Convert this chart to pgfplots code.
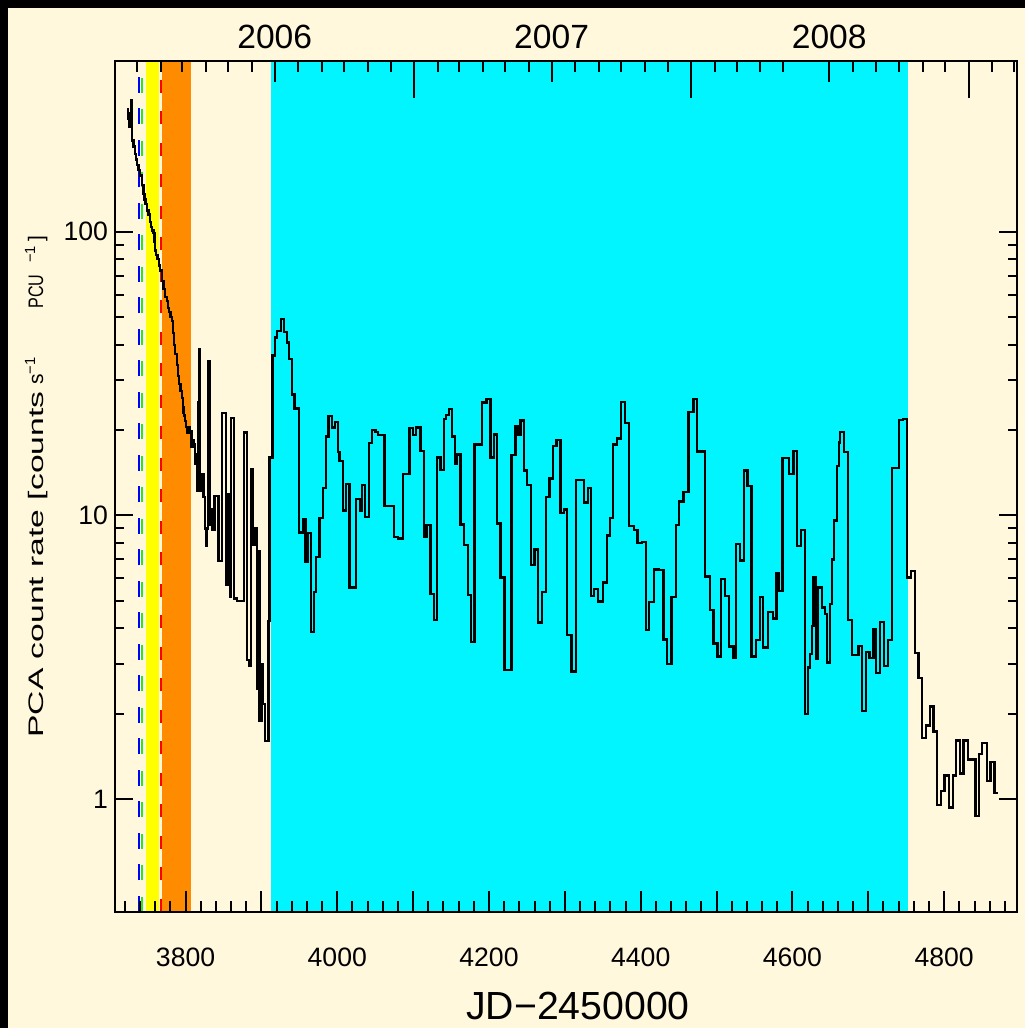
\documentclass[border=0pt]{standalone}
\usepackage{pgfplots}
\pgfplotsset{compat=1.18}
\usepackage{graphicx}
\usepackage{fontspec}
\setmainfont{Liberation Sans}

\definecolor{cream}{RGB}{255,248,220}
\definecolor{bandcyan}{RGB}{0,245,255}
\definecolor{bandorange}{RGB}{255,140,0}
\definecolor{bandyellow}{RGB}{255,255,0}
\definecolor{dashgreen}{RGB}{40,230,40}

\begin{document}
\begin{tikzpicture}[x=1pt,y=1pt]
\path[use as bounding box] (0,0) rectangle (512.5,514);
\fill[black] (0,0) rectangle (512.5,514);
\fill[cream] (4,0) rectangle (512.5,510);

% main light curve axis
\begin{axis}[
  at={(57.5pt,58pt)}, anchor=south west,
  scale only axis, width=451pt, height=425.5pt,
  xmin=3707, xmax=4896, ymode=log, ymin=0.4, ymax=400,
  axis line style={line width=1pt},
  tick style={line width=1pt, black},
  tick align=inside,
  major tick length=9pt, minor tick length=4.5pt,
  /pgf/number format/assume math mode=true,
  axis on top,
  xtick={3800,4000,...,4800},
  xticklabels={3800,4000,4200,4400,4600,4800},
  xtick pos=left,
  ytick={1,10,100},
  yticklabels={1,10,100},
  ytick pos=both,
  xticklabel style={font=\fontsize{13.3}{15}\selectfont, yshift=-14.5pt},
  yticklabel style={font=\fontsize{13.3}{15}\selectfont},
]
% observing windows
\addplot[draw=none, fill=bandyellow, forget plot] coordinates {(3748,0.4) (3748,400) (3765,400) (3765,0.4)} -- cycle;
\addplot[draw=none, fill=bandorange, forget plot] coordinates {(3768.6,0.4) (3768.6,400) (3806.9,400) (3806.9,0.4)} -- cycle;
\addplot[draw=none, fill=bandcyan, forget plot] coordinates {(3912.5,0.4) (3912.5,400) (4752,400) (4752,0.4)} -- cycle;
% event markers
\addplot[blue, line width=1pt, dash pattern=on 8pt off 7.75pt, forget plot] coordinates {(3738,0.4) (3738,400)};
\addplot[dashgreen, line width=1pt, dash pattern=on 7.5pt off 8.25pt, forget plot] coordinates {(3743,0.4) (3743,400)};
\addplot[red, line width=1pt, dash pattern=on 6.5pt off 9.25pt, forget plot] coordinates {(3767.3,0.4) (3767.3,400)};

% JD axis tick marks: every 100 d long, every 20 d short
\addplot[black, line width=1pt, forget plot, unbounded coords=jump] coordinates {
(3720,0.4) (3720,0.4363) (3720,nan)
(3740,0.4) (3740,0.4363) (3740,nan)
(3760,0.4) (3760,0.4363) (3760,nan)
(3780,0.4) (3780,0.4363) (3780,nan)
(3800,0.4) (3800,0.4732) (3800,nan)
(3820,0.4) (3820,0.4363) (3820,nan)
(3840,0.4) (3840,0.4363) (3840,nan)
(3860,0.4) (3860,0.4363) (3860,nan)
(3880,0.4) (3880,0.4363) (3880,nan)
(3900,0.4) (3900,0.4732) (3900,nan)
(3920,0.4) (3920,0.4363) (3920,nan)
(3940,0.4) (3940,0.4363) (3940,nan)
(3960,0.4) (3960,0.4363) (3960,nan)
(3980,0.4) (3980,0.4363) (3980,nan)
(4000,0.4) (4000,0.4732) (4000,nan)
(4020,0.4) (4020,0.4363) (4020,nan)
(4040,0.4) (4040,0.4363) (4040,nan)
(4060,0.4) (4060,0.4363) (4060,nan)
(4080,0.4) (4080,0.4363) (4080,nan)
(4100,0.4) (4100,0.4732) (4100,nan)
(4120,0.4) (4120,0.4363) (4120,nan)
(4140,0.4) (4140,0.4363) (4140,nan)
(4160,0.4) (4160,0.4363) (4160,nan)
(4180,0.4) (4180,0.4363) (4180,nan)
(4200,0.4) (4200,0.4732) (4200,nan)
(4220,0.4) (4220,0.4363) (4220,nan)
(4240,0.4) (4240,0.4363) (4240,nan)
(4260,0.4) (4260,0.4363) (4260,nan)
(4280,0.4) (4280,0.4363) (4280,nan)
(4300,0.4) (4300,0.4732) (4300,nan)
(4320,0.4) (4320,0.4363) (4320,nan)
(4340,0.4) (4340,0.4363) (4340,nan)
(4360,0.4) (4360,0.4363) (4360,nan)
(4380,0.4) (4380,0.4363) (4380,nan)
(4400,0.4) (4400,0.4732) (4400,nan)
(4420,0.4) (4420,0.4363) (4420,nan)
(4440,0.4) (4440,0.4363) (4440,nan)
(4460,0.4) (4460,0.4363) (4460,nan)
(4480,0.4) (4480,0.4363) (4480,nan)
(4500,0.4) (4500,0.4732) (4500,nan)
(4520,0.4) (4520,0.4363) (4520,nan)
(4540,0.4) (4540,0.4363) (4540,nan)
(4560,0.4) (4560,0.4363) (4560,nan)
(4580,0.4) (4580,0.4363) (4580,nan)
(4600,0.4) (4600,0.4732) (4600,nan)
(4620,0.4) (4620,0.4363) (4620,nan)
(4640,0.4) (4640,0.4363) (4640,nan)
(4660,0.4) (4660,0.4363) (4660,nan)
(4680,0.4) (4680,0.4363) (4680,nan)
(4700,0.4) (4700,0.4732) (4700,nan)
(4720,0.4) (4720,0.4363) (4720,nan)
(4740,0.4) (4740,0.4363) (4740,nan)
(4760,0.4) (4760,0.4363) (4760,nan)
(4780,0.4) (4780,0.4363) (4780,nan)
(4800,0.4) (4800,0.4732) (4800,nan)
(4820,0.4) (4820,0.4363) (4820,nan)
(4840,0.4) (4840,0.4363) (4840,nan)
(4860,0.4) (4860,0.4363) (4860,nan)
(4880,0.4) (4880,0.4363)
};

% PCA count rate
\addplot[const plot, black, line width=1.15pt, line join=miter] table {
x y
3723.2 270
3724.5 250
3725.5 235
3726.8 262
3728.1 290
3729.0 230
3729.8 210
3731.4 200
3733.4 188
3734.8 180
3736.0 172
3738.0 165
3740.0 158
3742.2 146
3744.4 136
3745.8 130
3747.3 125
3749.0 119
3751.0 115
3752.8 108
3754.5 104
3756.0 101
3757.6 99
3759.0 92
3759.8 86
3761.5 83
3763.1 80
3764.8 76
3766.4 73
3768.5 67
3771.0 63
3773.2 59
3775.2 57
3776.8 54
3778.3 52
3780.0 50
3781.8 48.5
3783.3 44
3784.8 40
3786.5 37
3788.4 34
3790.0 31
3791.5 29
3793.2 27.5
3795.0 26
3796.2 24
3797.4 23
3798.4 22.5
3799.4 21.5
3800.7 20.5
3802.0 19.5
3804.0 20.5
3806.0 19.9
3808.0 17.5
3809.2 18.5
3810.4 17.9
3812.6 15.2
3813.9 16.5
3815.7 12.2
3817.0 25
3817.9 38.5
3818.8 13
3820.1 12.2
3821.4 14.0
3823.6 11.6
3825.8 9.0
3827.1 7.8
3828.4 9.0
3829.8 35
3831.5 9.3
3832.8 10.5
3834.6 8.9
3838.1 11.7
3843.4 6.9
3848.2 23
3853.5 5.7
3856.6 11.9
3858.8 5.15
3860.1 22
3864.1 5.1
3867.6 5.0
3877.3 19.6
3880.8 3.1
3883.4 2.95
3886.1 14.6
3888.7 7.9
3892.2 9.0
3894.0 2.44
3896.2 7.5
3897.5 1.89
3900.2 3.0
3901.5 2.17
3904.6 1.6
3909.4 4.25
3910.7 16.0
3914.7 36.6
3918.2 42.4
3920.4 44.8
3926.1 49.3
3930.1 44.3
3933.6 40.7
3936.7 35.6
3940.2 26.7
3943.7 23.8
3949.9 8.70
3955.6 9.70
3958.2 6.85
3961.3 8.67
3965.3 3.89
3969.7 5.37
3972.3 7.14
3976.7 9.78
3981.1 12.5
3985.5 19.0
3988.6 22.4
3992.6 20.4
3997.0 21.4
4000.5 16.7
4003.1 15.6
4007.5 10.4
4011.9 12.9
4016.3 5.57
4025.1 11.4
4029.5 10.4
4033.0 12.8
4037.0 9.9
4041.4 18.0
4045.8 20.0
4050.2 19.7
4053.7 19.2
4062.1 10.8
4074.8 8.4
4080.1 8.3
4086.3 14.0
4095.1 20.3
4099.5 19.2
4103.9 20.4
4109.6 16.9
4114.0 8.4
4117.5 9.25
4122.8 5.3
4127.2 4.27
4131.6 16.0
4136.0 14.5
4140.4 21.9
4143.5 22.6
4147.0 23.7
4151.4 19.0
4154.9 15.2
4158.0 16.4
4162.4 9.3
4166.8 7.85
4172.1 5.24
4176.5 3.58
4180.9 17.8
4191.0 25.0
4196.7 25.7
4202.0 16.0
4206.4 19.3
4210.8 9.37
4215.2 6.04
4220.5 2.86
4229.7 16.3
4235.0 20.6
4238.1 19.3
4241.6 21.6
4246.0 14.4
4250.4 12.8
4255.7 6.69
4260.1 7.58
4264.9 4.19
4270.2 5.37
4275.5 11.6
4279.9 13.5
4284.7 17.6
4289.1 18.5
4294.4 10.2
4298.8 10.5
4303.2 3.79
4308.9 2.82
4315.1 13.3
4325.2 11.1
4330.5 12.5
4334.9 5.21
4338.4 5.49
4344.1 4.97
4350.7 5.8
4355.1 8.5
4359.5 9.8
4363.9 17.8
4368.3 18.7
4373.6 25.1
4378.9 21.2
4384.6 9.2
4391.2 8.9
4395.6 8.0
4401.3 8.07
4406.6 3.95
4411.0 4.96
4417.6 6.45
4424.2 6.42
4429.9 3.65
4434.3 2.99
4440.5 5.17
4446.2 9.25
4450.6 11.2
4456.3 12.1
4462.9 23.2
4469.5 25.7
4473.9 16.8
4484.9 6.09
4491.1 4.64
4495.9 3.54
4501.2 3.18
4505.6 5.97
4510.9 5.21
4516.6 3.45
4522.3 3.15
4525.4 7.95
4531.1 6.93
4536.4 14.4
4540.8 12.7
4546.1 3.18
4551.8 3.63
4557.1 5.17
4561.5 3.42
4568.1 4.58
4574.7 4.33
4579.1 6.24
4582.6 5.42
4587.0 15.9
4595.8 14.0
4601.5 16.9
4605.9 7.8
4611.2 8.9
4616.5 2.0
4620.9 2.91
4623.5 3.25
4625.3 4.08
4627.9 6.04
4631.4 3.12
4634.1 5.57
4638.9 4.74
4642.9 4.49
4645.5 3.03
4649.9 4.86
4652.1 7.0
4655.2 9.6
4658.3 14.9
4660.9 18.1
4663.1 19.7
4668.4 16.7
4672.8 4.28
4678.1 3.23
4686.9 3.47
4691.3 2.05
4697.0 3.31
4701.4 3.14
4706.7 3.97
4710.2 2.78
4715.5 4.21
4720.3 2.95
4725.6 3.64
4730.9 14.7
4740.1 21.7
4745.4 21.9
4751.1 6.04
4756.4 6.37
4761.7 3.27
4766.1 2.67
4770.9 1.64
4776.2 1.82
4781.5 2.12
4785.9 1.73
4790.3 0.954
4796.0 1.07
4800.4 1.21
4806.1 0.934
4811.4 1.21
4815.8 1.61
4821.1 1.23
4825.5 1.61
4831.2 1.38
4841.3 0.87
4845.7 1.44
4850.1 1.58
4856.3 1.16
4861.1 1.35
4866.4 1.05
4870.8 1.05
};
\end{axis}

% calendar year labels and the tick marks of the top axis
\begin{axis}[
  at={(57.5pt,58pt)}, anchor=south west,
  scale only axis, width=451pt, height=425.5pt,
  xmin=3707, xmax=4896, ymin=0, ymax=1,
  axis line style={draw=none},
  major tick length=0pt,
  clip=false,
  /pgf/number format/assume math mode=true,
  xtick pos=right,
  ytick=\empty,
  xtick={3917.5,4282.5,4648.5},
  xticklabels={2006,2007,2008},
  xticklabel style={font=\fontsize{16.8}{19}\selectfont, yshift=2.5pt},
]
% top: month starts (short), mid-year (medium), year boundaries (long)
\pgfplotsinvokeforeach{3736.5,3767.5,3795.5,3826.5,3856.5,3887.5,3948.5,3979.5,4009.5,4040.5,4070.5,4132.5,4160.5,4191.5,4221.5,4252.5,4313.5,4344.5,4374.5,4405.5,4435.5,4497.5,4526.5,4557.5,4587.5,4679.5,4710.5,4740.5,4771.5,4801.5,4863.5,4891.5}{
  \draw[black, line width=1pt] (axis cs:#1,1) -- ++(0pt,-5.35pt);
}
\pgfplotsinvokeforeach{3917.5,4282.5,4648.5}{
  \draw[black, line width=1pt] (axis cs:#1,1) -- ++(0pt,-10.35pt);
}
\pgfplotsinvokeforeach{4101.5,4466.5,4832.5}{
  \draw[black, line width=1pt] (axis cs:#1,1) -- ++(0pt,-18.5pt);
}
\end{axis}

\node[font=\fontsize{19.6}{22}\selectfont] at (289,11) {JD−2450000};
% y-axis title, set piece by piece along the left margin
\begin{scope}[every node/.style={rotate=90, anchor=base west, inner sep=0pt, font=\fontsize{10.5}{12}\selectfont}]
\node at (21.5,145) {\resizebox{173pt}{\height}{PCA count rate [counts}};
\node at (21.5,321.5) {s\textsuperscript{−1}};
\node at (21.5,359.5) {\resizebox{17pt}{\height}{PCU}};
\node at (21.5,382.5) {\textsuperscript{−1}};
\node at (21.5,393) {]};
\end{scope}
\end{tikzpicture}
\end{document}
